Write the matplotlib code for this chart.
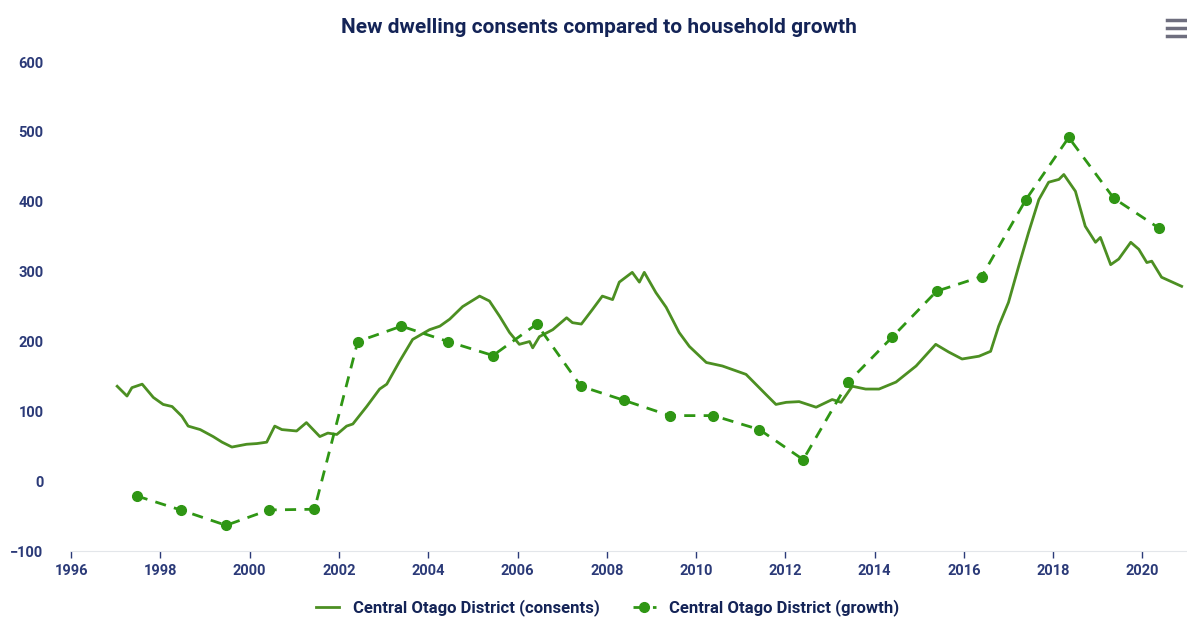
"""
New dwelling consents compared to household growth
===================================================
"""

import matplotlib.pyplot as plt
from matplotlib.lines import Line2D

# consents (rolling annual total), decimal year vs value
consent_years = [
    1997.03, 1997.25, 1997.36, 1997.59, 1997.84, 1998.06, 1998.26, 1998.48,
    1998.62, 1998.89, 1999.18, 1999.38, 1999.60, 1999.93, 2000.16, 2000.38,
    2000.56, 2000.72, 2001.05, 2001.27, 2001.57, 2001.75, 2001.95, 2002.17,
    2002.31, 2002.62, 2002.91, 2003.07, 2003.36, 2003.65, 2004.03, 2004.26,
    2004.48, 2004.77, 2005.15, 2005.37, 2005.60, 2005.82, 2006.04, 2006.27,
    2006.34, 2006.49, 2006.79, 2007.10, 2007.23, 2007.43, 2007.68, 2007.90,
    2008.13, 2008.28, 2008.57, 2008.73, 2008.84, 2009.10, 2009.33, 2009.62,
    2009.85, 2010.23, 2010.59, 2011.12, 2011.57, 2011.79, 2012.02, 2012.31,
    2012.69, 2013.05, 2013.25, 2013.50, 2013.80, 2014.10, 2014.48, 2014.93,
    2015.37, 2015.66, 2015.96, 2016.34, 2016.60, 2016.78, 2017.00, 2017.23,
    2017.45, 2017.68, 2017.90, 2018.13, 2018.24, 2018.50, 2018.72, 2018.95,
    2019.06, 2019.29, 2019.47, 2019.74, 2019.92, 2020.10, 2020.21, 2020.43,
    2020.88,
]
consent_values = [
    136, 122, 134, 139, 120, 110, 107, 93,
    79, 74, 64, 56, 49, 53, 54, 56,
    79, 74, 72, 84, 64, 69, 67, 79,
    82, 107, 132, 139, 172, 203, 217, 222,
    232, 250, 265, 258, 236, 213, 196, 200,
    191, 207, 217, 234, 227, 225, 246, 265,
    260, 285, 299, 285, 299, 270, 249, 213,
    193, 170, 165, 153, 124, 110, 113, 114,
    106, 117, 113, 136, 132, 132, 142, 165,
    196, 185, 175, 179, 186, 222, 256, 308,
    356, 403, 428, 432, 439, 415, 365, 342,
    349, 310, 318, 342, 332, 313, 315, 292,
    279,
]

# household growth, one point per year (mid year)
growth_years = [
    1997.47, 1998.45, 1999.47, 2000.43, 2001.45, 2002.42, 2003.40, 2004.44,
    2005.45, 2006.43, 2007.42, 2008.38, 2009.41, 2010.39, 2011.42, 2012.40,
    2013.41, 2014.39, 2015.39, 2016.40, 2017.39, 2018.35, 2019.36, 2020.38,
]
growth_values = [
    -21, -41, -63, -41, -40, 200, 222, 200,
    180, 225, 136, 116, 94, 94, 74, 31,
    142, 206, 272, 293, 403, 492, 405, 362,
]

x_ticks = list(range(1996, 2021, 2))
y_ticks = list(range(-100, 601, 100))

TEXT = "#2b3a78"
TITLE = "#142457"

plt.rcParams["font.family"] = ["Roboto", "DejaVu Sans"]

fig = plt.figure(figsize=(11.87, 6.2), dpi=100)
ax = fig.add_axes([0.06, 0.111, 0.94, 0.789])

ax.plot(
    consent_years,
    consent_values,
    color="#4c8f22",
    linewidth=2,
    label="Central Otago District (consents)",
)
ax.plot(
    growth_years,
    growth_values,
    color="#2f9614",
    linewidth=2,
    linestyle=(0, (4, 3)),
    marker="o",
    markersize=7,
    label="Central Otago District (growth)",
)

ax.set_xlim(1996, 2021)
ax.set_ylim(-100, 600)
ax.set_xticks(x_ticks)
ax.set_yticks(y_ticks)
ax.tick_params(axis="x", colors=TEXT, labelsize=10.5, length=5, width=1, pad=4)
ax.tick_params(axis="y", colors=TEXT, labelsize=10.5, length=0, pad=20)
for lab in ax.get_xticklabels() + ax.get_yticklabels():
    lab.set_fontweight("bold")

for side in ["top", "right", "left"]:
    ax.spines[side].set_visible(False)
ax.spines["bottom"].set_color("#e3e6ea")

fig.text(
    0.505, 0.955,
    "New dwelling consents compared to household growth",
    ha="center", va="center", color=TITLE, fontsize=15, fontweight="bold",
)

# hamburger menu icon
for yy in [0.968, 0.955, 0.942]:
    fig.add_artist(Line2D([0.983, 0.998], [yy, yy], color="#6e6e7e", linewidth=2.5))

legend = fig.legend(
    loc="center",
    bbox_to_anchor=(0.512, 0.02),
    ncol=2,
    frameon=False,
    fontsize=12,
    handlelength=1.4,
    columnspacing=2,
)
for text in legend.get_texts():
    text.set_color(TITLE)
    text.set_fontweight("bold")

fig.savefig("out.png", dpi=100)
